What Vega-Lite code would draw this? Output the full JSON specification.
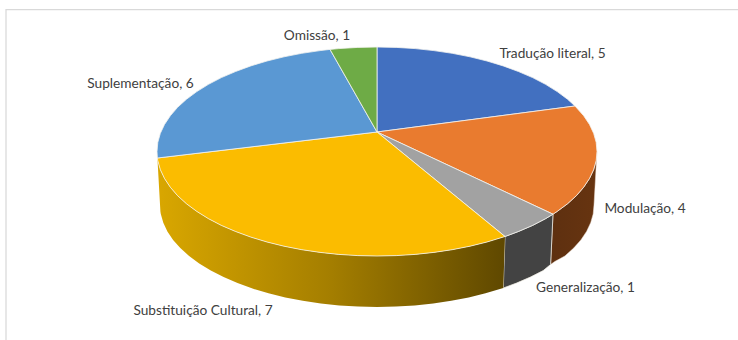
{
  "$schema": "https://vega.github.io/schema/vega-lite/v6.json",
  "width": 738,
  "height": 340,
  "padding": 0,
  "autosize": {"type": "fit", "contains": "padding"},
  "background": "white",
  "view": {"stroke": null},
  "projection": {"type": "identity", "reflectY": true, "scale": 1, "translate": [377, 151.5]},
  "layer": [
    {
      "description": "Chart frame",
      "data": {"values": [
        {"type": "Feature", "properties": {"part": "frame"}, "geometry": {"type": "LineString", "coordinates": [[-371, -190], [-371, 142], [361, 142]]}}
      ]},
      "mark": {"type": "geoshape", "filled": false, "stroke": "#d9d9d9", "strokeWidth": 1.25}
    },
    {
      "description": "Rim below Modulação",
      "data": {"values": [
        {"type": "Feature", "properties": {"slice": "Modulação"}, "geometry": {"type": "Polygon", "coordinates": [[[220,0],[219.2,-9.1],[216.7,-18.1],[212.5,-27],[206.7,-35.7],[199.4,-44.2],[190.5,-52.3],[180.2,-59.9],[176,-62.7],[173.6,-113],[177.8,-110],[187.9,-104.5],[196.7,-96.6],[203.9,-88.4],[209.6,-79.9],[213.7,-71.2],[216.2,-62.4],[217,-53.5],[220,0]]]}}
      ]},
      "mark": {"type": "geoshape", "stroke": "#f2e6dc", "strokeWidth": 0.5, "fill": {"gradient": "linear", "x1": 0, "x2": 1, "y1": 0, "y2": 0, "stops": [{"offset": 0, "color": "#5e3010"}, {"offset": 1, "color": "#673410"}]}}
    },
    {
      "description": "Rim below Generalização",
      "data": {"values": [
        {"type": "Feature", "properties": {"slice": "Generalização"}, "geometry": {"type": "Polygon", "coordinates": [[[176,-62.7],[168.5,-67.2],[155.6,-73.9],[141.4,-80],[128,-85],[126.3,-136.5],[139.5,-131.6],[153.4,-125.6],[166.2,-119.1],[173.6,-113],[176,-62.7]]]}}
      ]},
      "mark": {"type": "geoshape", "stroke": "#f2efe6", "strokeWidth": 0.75, "fill": "#434343"}
    },
    {
      "description": "Rim below Substituição Cultural",
      "data": {"values": [
        {"type": "Feature", "properties": {"slice": "Substituição Cultural"}, "geometry": {"type": "Polygon", "coordinates": [[[128,-85],[110,-90.5],[93,-94.7],[75.2,-98.2],[56.9,-100.9],[38.2,-102.9],[19.2,-104.1],[0,-104.5],[-19.2,-104.1],[-38.2,-102.9],[-56.9,-100.9],[-75.2,-98.2],[-93,-94.7],[-110,-90.5],[-126.2,-85.6],[-141.4,-80],[-155.6,-73.9],[-168.5,-67.2],[-180.2,-59.9],[-190.5,-52.3],[-199.4,-44.2],[-206.7,-35.7],[-212.5,-27],[-216.7,-18.1],[-219.2,-9.1],[-219.6,-6.5],[-216.6,-59.9],[-216.2,-62.4],[-213.7,-71.2],[-209.6,-79.9],[-203.9,-88.4],[-196.7,-96.6],[-187.9,-104.5],[-177.8,-112],[-166.2,-119.1],[-153.4,-125.6],[-139.5,-131.6],[-124.5,-137.1],[-108.5,-141.8],[-91.7,-145.9],[-74.2,-149.3],[-56.2,-152],[-37.7,-154],[-18.9,-155.1],[0,-155.5],[18.9,-155.1],[37.7,-154],[56.2,-152],[74.2,-149.3],[91.7,-145.9],[108.5,-141.8],[126.3,-136.5],[128,-85]]]}}
      ]},
      "mark": {"type": "geoshape", "strokeWidth": 0, "fill": {"gradient": "linear", "x1": 0, "x2": 1, "y1": 0, "y2": 0, "stops": [{"offset": 0, "color": "#d9a700"}, {"offset": 0.5, "color": "#a47e00"}, {"offset": 1, "color": "#5f4800"}]}}
    },
    {
      "description": "Top face of the pie",
      "data": {"values": [
        {"type": "Feature", "properties": {"slice": "Tradução literal", "value": 5}, "geometry": {"type": "Polygon", "coordinates": [[[0,19.5],[0,104.5],[19.2,104.1],[38.2,102.9],[56.9,100.9],[75.2,98.2],[93,94.7],[110,90.5],[126.2,85.6],[141.4,80],[155.6,73.9],[168.5,67.2],[180.2,59.9],[190.5,52.3],[198,45.5],[0,19.5]]]}},
        {"type": "Feature", "properties": {"slice": "Modulação", "value": 4}, "geometry": {"type": "Polygon", "coordinates": [[[0,19.5],[198,45.5],[206.7,35.7],[212.5,27],[216.7,18.1],[219.2,9.1],[220,0],[219.2,-9.1],[216.7,-18.1],[212.5,-27],[206.7,-35.7],[199.4,-44.2],[190.5,-52.3],[180.2,-59.9],[176,-62.7],[0,19.5]]]}},
        {"type": "Feature", "properties": {"slice": "Generalização", "value": 1}, "geometry": {"type": "Polygon", "coordinates": [[[0,19.5],[176,-62.7],[168.5,-67.2],[155.6,-73.9],[141.4,-80],[128,-85],[0,19.5]]]}},
        {"type": "Feature", "properties": {"slice": "Substituição Cultural", "value": 7}, "geometry": {"type": "Polygon", "coordinates": [[[0,19.5],[128,-85],[110,-90.5],[93,-94.7],[75.2,-98.2],[56.9,-100.9],[38.2,-102.9],[19.2,-104.1],[0,-104.5],[-19.2,-104.1],[-38.2,-102.9],[-56.9,-100.9],[-75.2,-98.2],[-93,-94.7],[-110,-90.5],[-126.2,-85.6],[-141.4,-80],[-155.6,-73.9],[-168.5,-67.2],[-180.2,-59.9],[-190.5,-52.3],[-199.4,-44.2],[-206.7,-35.7],[-212.5,-27],[-216.7,-18.1],[-219.2,-9.1],[-219.6,-6.5],[0,19.5]]]}},
        {"type": "Feature", "properties": {"slice": "Suplementação", "value": 6}, "geometry": {"type": "Polygon", "coordinates": [[[0,19.5],[-219.6,-6.5],[-220,0],[-219.2,9.1],[-216.7,18.1],[-212.5,27],[-206.7,35.7],[-199.4,44.2],[-190.5,52.3],[-180.2,59.9],[-168.5,67.2],[-155.6,73.9],[-141.4,80],[-126.2,85.6],[-110,90.5],[-93,94.7],[-75.2,98.2],[-56.9,100.9],[-47,102.1],[0,19.5]]]}},
        {"type": "Feature", "properties": {"slice": "Omissão", "value": 1}, "geometry": {"type": "Polygon", "coordinates": [[[0,19.5],[-47,102.1],[-38.2,102.9],[-19.2,104.1],[0,104.5],[0,19.5]]]}}
      ]},
      "mark": {"type": "geoshape", "stroke": "#f4f4f0", "strokeWidth": 0.8},
      "encoding": {
        "color": {
          "field": "properties.slice",
          "type": "nominal",
          "legend": null,
          "scale": {
            "domain": ["Tradução literal", "Modulação", "Generalização", "Substituição Cultural", "Suplementação", "Omissão"],
            "range": ["#4270c0", "#e97b2f", "#a2a2a2", "#fbbc00", "#5a98d3", "#6eab46"]
          }
        }
      }
    },
    {
      "description": "Slice labels",
      "data": {"values": [
        {"label": "Tradução literal, 5", "lon": 175.5, "lat": 97.5},
        {"label": "Omissão, 1", "lon": -60, "lat": 115.5},
        {"label": "Suplementação, 6", "lon": -236.5, "lat": 67.5},
        {"label": "Modulação, 4", "lon": 268, "lat": -57.5},
        {"label": "Generalização, 1", "lon": 208.5, "lat": -136.5},
        {"label": "Substituição Cultural, 7", "lon": -174, "lat": -159.5}
      ]},
      "mark": {"type": "text", "font": "Lato", "fontSize": 13.7, "color": "#404040", "align": "center", "baseline": "middle"},
      "encoding": {
        "longitude": {"field": "lon", "type": "quantitative"},
        "latitude": {"field": "lat", "type": "quantitative"},
        "text": {"field": "label", "type": "nominal"}
      }
    }
  ]
}
